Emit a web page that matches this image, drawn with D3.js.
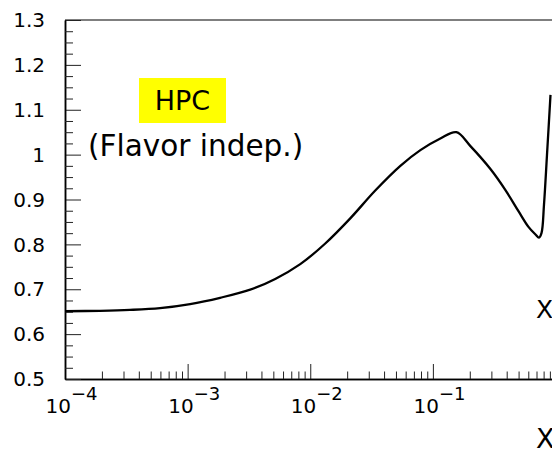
<!DOCTYPE html>
<html>
<head>
<meta charset="utf-8">
<script src="https://cdn.jsdelivr.net/npm/d3@7/dist/d3.min.js"></script>
<style>
  html, body { margin: 0; padding: 0; background: #fff; }
  svg { display: block; }
</style>
</head>
<body>
<svg id="chart" width="552" height="450"></svg>
<script>
// ---- data ----
const xValues = [1.00e-4, 1.93e-4, 3.39e-4, 5.96e-4, 1.048e-3, 1.84e-3, 3.24e-3, 5.18e-3,
  8.29e-3, 1.326e-2, 2.12e-2, 3.39e-2, 5.43e-2, 7.91e-2, 0.1151, 0.1555,
  0.2024, 0.2947, 0.3907, 0.4989, 0.6020, 0.6867, 0.7330, 0.7686, 0.8055, 0.8522, 0.9104];
const yValues = [0.651, 0.652, 0.654, 0.658, 0.667, 0.681, 0.699, 0.723,
  0.756, 0.802, 0.858, 0.920, 0.975, 1.010, 1.036, 1.050,
  1.019, 0.968, 0.921, 0.874, 0.839, 0.822, 0.815, 0.825, 0.888, 0.999, 1.133];
const xMajorTicks = [1e-4, 1e-3, 1e-2, 1e-1];
const xTickExponents = ["\u22124", "\u22123", "\u22122", "\u22121"];
const yMajorTicks = [0.5, 0.6, 0.7, 0.8, 0.9, 1.0, 1.1, 1.2, 1.3];
const yTickLabels = ["0.5", "0.6", "0.7", "0.8", "0.9", "1", "1.1", "1.2", "1.3"];
const boxLabel = "HPC";
const subLabel = "(Flavor indep.)";
const axisTitle = "X";

(function () {
// ---- layout ----
const svg = d3.select("#chart");
const pLeft = 65, pRight = 555.5, pTop = 20, pBottom = 379;
const x = d3.scaleLog().domain([1e-4, 1]).range([pLeft, pRight]);
const y = d3.scaleLinear().domain([0.5, 1.3]).range([pBottom, pTop]);
const font = "DejaVu Sans, Liberation Sans, sans-serif";

// minor ticks
const xMinor = [];
for (let e = -4; e < 0; e++) for (let m = 2; m <= 9; m++) xMinor.push(m * Math.pow(10, e));
const yMinor = d3.range(0, 33).map(i => 0.5 + i * 0.025).filter(v => Math.abs(v * 10 - Math.round(v * 10)) > 1e-6);

// frame top line
svg.append("line").attr("x1", pLeft).attr("x2", 552).attr("y1", pTop).attr("y2", pTop)
  .attr("stroke", "#000").attr("stroke-width", 1.2);

// bottom axis (major + minor), ticks pointing inward
const gx = svg.append("g").attr("transform", `translate(0,${pBottom})`);
gx.call(d3.axisBottom(x).tickValues(xMajorTicks).tickSizeInner(-15).tickSizeOuter(0).tickFormat(""));
gx.append("g").call(d3.axisBottom(x).tickValues(xMinor).tickSizeInner(-7.5).tickSizeOuter(0).tickFormat(""));
gx.selectAll(".domain").attr("stroke-width", 1.5);

// left axis
const gy = svg.append("g").attr("transform", `translate(${pLeft},0)`);
gy.call(d3.axisRight(y).tickValues(yMajorTicks).tickSizeInner(16).tickSizeOuter(0).tickFormat(""));
gy.append("g").call(d3.axisRight(y).tickValues(yMinor).tickSizeInner(8).tickSizeOuter(0).tickFormat(""));
gy.selectAll(".domain").attr("stroke-width", 1.5);
svg.selectAll(".tick line").attr("stroke", "#222").attr("stroke-width", 1);

// y labels
svg.append("g").selectAll("text").data(yMajorTicks).join("text")
  .attr("x", 45).attr("y", d => y(d)).attr("dy", "0.36em")
  .attr("text-anchor", "end").attr("font-family", font).attr("font-size", 20)
  .text((d, i) => yTickLabels[i]);

// x labels: 10^exp
const xl = svg.append("g").selectAll("g").data(xMajorTicks).join("g");
xl.append("text").attr("x", d => x(d) + 6).attr("y", 413)
  .attr("text-anchor", "end").attr("font-family", font).attr("font-size", 20).text("10");
xl.append("text").attr("x", d => x(d) + 6).attr("y", 400)
  .attr("text-anchor", "start").attr("font-family", font).attr("font-size", 18)
  .text((d, i) => xTickExponents[i]);

// curve
const pts = xValues.map((v, i) => [v, yValues[i]]);
svg.append("path").datum(pts)
  .attr("fill", "none").attr("stroke", "#000").attr("stroke-width", 2.3)
  .attr("stroke-linejoin", "round")
  .attr("d", d3.line().x(d => x(d[0])).y(d => y(d[1])).curve(d3.curveCatmullRom.alpha(0.5)));

// HPC box
svg.append("rect").attr("x", 139).attr("y", 78).attr("width", 87).attr("height", 45).attr("fill", "#ffff00");
svg.append("text").attr("x", 182.5).attr("y", 110).attr("text-anchor", "middle")
  .attr("font-family", font).attr("font-size", 27).text(boxLabel);
svg.append("text").attr("x", 88).attr("y", 156)
  .attr("font-family", font).attr("font-size", 29.5).text(subLabel);

// X titles (cut at the right edge, as in the reference)
svg.append("text").attr("x", 536).attr("y", 318).attr("font-family", font).attr("font-size", 25).text(axisTitle);
svg.append("text").attr("x", 536).attr("y", 448).attr("font-family", font).attr("font-size", 27).text(axisTitle);
})();
</script>
</body>
</html>
